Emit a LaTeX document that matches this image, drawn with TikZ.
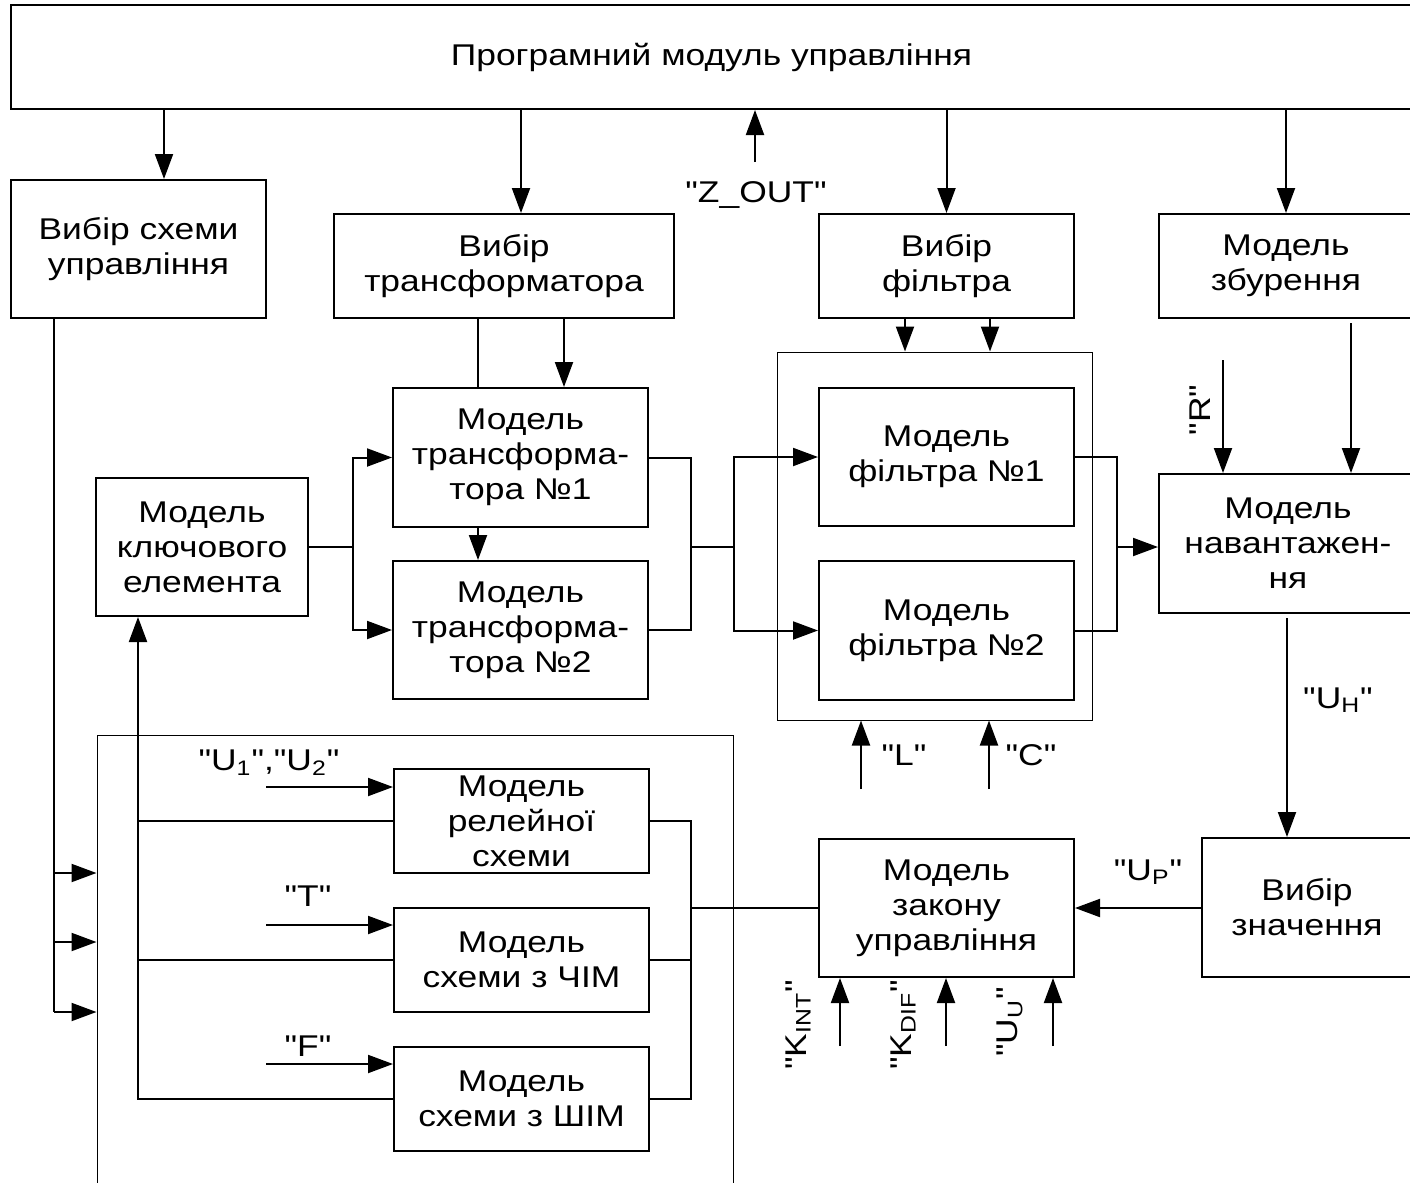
\documentclass[tikz,border=0pt]{standalone}
\usepackage{fontspec}
\setmainfont[FakeStretch=1.18,Ligatures=TeXOff]{Liberation Sans}
\usetikzlibrary{arrows.meta,calc}
\tikzset{
 blk/.style={draw, line width=1pt, inner sep=0pt, align=center, font=\fontsize{15}{17.5}\selectfont},
 grp/.style={draw, line width=0.5pt, inner sep=0pt},
 sz/.style 2 args={minimum width=#1*0.5pt, minimum height=#2*0.5pt},
 con/.style={line width=1pt},
 arr/.style={con, -{Triangle[length=12.5pt,width=9pt]}},
 lbl/.style={inner sep=0pt, font=\fontsize{15}{17.5}\selectfont},
}
\begin{document}
\begin{tikzpicture}[x=0.5pt,y=-0.5pt]
\clip (0,0) rectangle (1410,1183);
\fill[white] (0,0) rectangle (1410,1183);
% groups
\node[grp, sz={315}{368}] (fg) at (934.5,536) {};
\node[grp, sz={636}{480}] (big) at (415,975) {};
% boxes
\node[blk, sz={1401}{104}] (top) at (711.5,57) {Програмний модуль управління};
\node[blk, sz={255}{138}] (vsx) at (138.5,249) {Вибір схеми\\управління};
\node[blk, sz={340}{104}] (vtr) at (504,266) {Вибір\\трансформатора};
\node[blk, sz={255}{104}] (vf) at (946.5,266) {Вибір\\фільтра};
\node[blk, sz={254}{104}] (mz) at (1286,266) {Модель\\збурення};
\node[blk, sz={255}{139}] (tr1) at (520.5,457.5) {Модель\\трансформа-\\тора №1};
\node[blk, sz={255}{138}] (tr2) at (520.5,630) {Модель\\трансформа-\\тора №2};
\node[blk, sz={212}{138}] (key) at (202,547) {Модель\\ключового\\елемента};
\node[blk, sz={255}{138}] (f1) at (946.5,457) {Модель\\фільтра №1};
\node[blk, sz={255}{139}] (f2) at (946.5,630.5) {Модель\\фільтра №2};
\node[blk, sz={258}{139}] (nav) at (1288,543.5) {Модель\\навантажен-\\ня};
\node[blk, sz={255}{138}] (zak) at (946.5,908) {Модель\\закону\\управління};
\node[blk, sz={210}{139}] (vz) at (1307,907.5) {Вибір\\значення};
\node[blk, sz={255}{104}] (rel) at (521.5,821) {Модель\\релейної\\схеми};
\node[blk, sz={255}{104}] (chim) at (521.5,960) {Модель\\схеми з ЧІМ};
\node[blk, sz={255}{104}] (shim) at (521.5,1099) {Модель\\схеми з ШІМ};
% labels
\node[lbl] (lz) at (756,195) {"Z\_OUT"};
\node[lbl, rotate=90] (lr) at (1200,410) {"R"};
\node[lbl] (ll) at (904,755) {"L"};
\node[lbl] (lc) at (1031,755) {"C"};
\node[lbl] (luh) at (1338,700) {"U\textsubscript{H}"};
\node[lbl] (lup) at (1148,872) {"U\textsubscript{P}"};
\node[lbl, rotate=90] (lki) at (798,1025) {"K\textsubscript{INT}"};
\node[lbl, rotate=90] (lkd) at (903,1025) {"K\textsubscript{DIF}"};
\node[lbl, rotate=90] (luu) at (1010,1022) {"U\textsubscript{U}"};
\node[lbl] (lu12) at (269,763) {"U\textsubscript{1}","U\textsubscript{2}"};
\node[lbl] (lt) at (308,896) {"T"};
\node[lbl] (lf) at (308,1046) {"F"};
% helper coordinates
\coordinate (xa) at (164,0);
\coordinate (xb) at (521,0);
\coordinate (zs) at (755,162);
\coordinate (xc) at (478,0);
\coordinate (xd) at (564,0);
\coordinate (j1) at (353,547);
\coordinate (j2) at (691,547);
\coordinate (j3) at (734,547);
\coordinate (j4) at (1117,547);
\coordinate (xe) at (905,0);
\coordinate (xf) at (990,0);
\coordinate (sL) at (861,789);
\coordinate (sC) at (989,789);
\coordinate (xg) at (1351,0);
\coordinate (sR) at (1223,360);
\coordinate (xh) at (1287,0);
\coordinate (j5) at (691,908);
\coordinate (sK1) at (840,1046);
\coordinate (sK2) at (946,1046);
\coordinate (sK3) at (1053,1046);
\coordinate (in1) at (266,787);
\coordinate (in2) at (266,925);
\coordinate (in3) at (266,1064);
\coordinate (b1) at (54,873);
\coordinate (b2) at (54,942);
\coordinate (b3) at (54,1012);
\coordinate (k1) at (138,0);
% connectors from top
\draw[arr] (top.south -| xa) -- (vsx.north -| xa);
\draw[arr] (top.south -| xb) -- (vtr.north -| xb);
\draw[arr] (top.south -| vf.north) -- (vf.north);
\draw[arr] (top.south -| mz.north) -- (mz.north);
\draw[arr] (zs) -- (zs |- top.south);
% transformer selection
\draw[con] (vtr.south -| xc) -- (tr1.north -| xc);
\draw[arr] (vtr.south -| xd) -- (tr1.north -| xd);
\draw[arr] (tr1.south -| xc) -- (tr2.north -| xc);
% key -> transformers
\draw[con] (key.east) -- (j1);
\draw[arr] (j1) |- (tr1.west);
\draw[arr] (j1) |- (tr2.west);
% transformers -> filters
\draw[con] (tr1.east) -| (j2);
\draw[con] (tr2.east) -| (j2);
\draw[con] (j2) -- (j3);
\draw[arr] (j3) |- (f1.west);
\draw[arr] (j3) |- (f2.west);
% filters -> load
\draw[con] (f1.east) -| (j4);
\draw[con] (f2.east) -| (j4);
\draw[arr] (j4) -- (j4 -| nav.west);
% filter selection
\draw[arr] (vf.south -| xe) -- (fg.north -| xe);
\draw[arr] (vf.south -| xf) -- (fg.north -| xf);
\draw[arr] (sL) -- (sL |- fg.south);
\draw[arr] (sC) -- (sC |- fg.south);
% disturbance, R
\draw[arr] ([yshift=-2pt]mz.south -| xg) -- (nav.north -| xg);
\draw[arr] (sR) -- (sR |- nav.north);
% load -> value selection -> control law
\draw[arr] ([yshift=-2pt]nav.south -| xh) -- (vz.north -| xh);
\draw[arr] (vz.west |- zak.east) -- (zak.east);
\draw[arr] (sK1) -- (sK1 |- zak.south);
\draw[arr] (sK2) -- (sK2 |- zak.south);
\draw[arr] (sK3) -- (sK3 |- zak.south);
% control law <- schemes
\draw[con] (zak.west) -- (j5);
\draw[con] (rel.east) -| (j5);
\draw[con] (shim.east) -| (j5);
\draw[con] (chim.east) -- (chim.east -| j5);
% inputs to schemes
\draw[arr] (in1) -- (in1 -| rel.west);
\draw[arr] (in2) -- (in2 -| chim.west);
\draw[arr] (in3) -- (in3 -| shim.west);
% schemes -> key element
\draw[arr] (shim.west) -| (key.south -| k1);
\draw[con] (rel.west) -- (rel.west -| k1);
\draw[con] (chim.west) -- (chim.west -| k1);
% scheme selection
\draw[con] (vsx.south -| b3) -- (b3);
\draw[arr] (b1) -- (b1 -| big.west);
\draw[arr] (b2) -- (b2 -| big.west);
\draw[arr] (b3) -- (b3 -| big.west);
\end{tikzpicture}
\end{document}
